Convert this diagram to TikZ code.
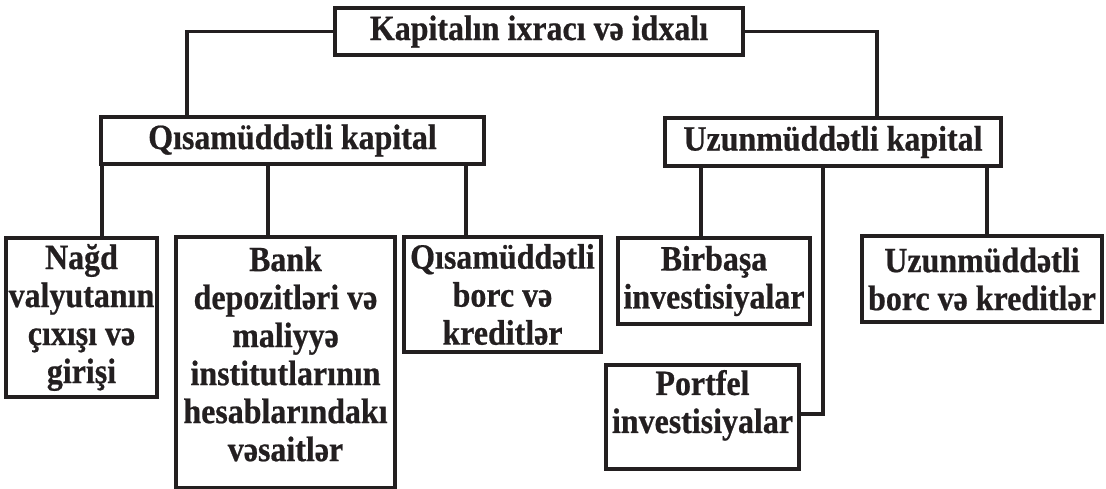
\documentclass[tikz,border=0pt]{standalone}
\usepackage{fontspec}
\setmainfont{Liberation Serif}[FakeStretch=0.9, BoldFeatures={FakeBold=0.6}]
\usetikzlibrary{calc}
\definecolor{ink}{HTML}{231F20}
\newcommand{\cellbox}[4]{\begin{minipage}[c][#2pt][#3]{#1pt}\centering\fontsize{35.5}{38}\selectfont\bfseries #4\end{minipage}}
\newcommand{\topcell}[4]{\begin{minipage}[c][#2pt][t]{#1pt}\centering\fontsize{35.5}{38}\selectfont\bfseries\vspace*{#3pt}#4\end{minipage}}
\tikzset{
  bx/.style={draw=ink, text=ink, line width=3.1pt, inner sep=0pt, rectangle},
  ln/.style={draw=ink, line width=3.1pt}
}
\begin{document}
\begin{tikzpicture}[x=1pt,y=-1pt]
\useasboundingbox (0,0) rectangle (1106,489);
% boxes
\node[bx] (top)  at (539,31.5)   {\cellbox{408}{47}{c}{Kapitalın ixracı və idxalı}};
\node[bx] (qisa) at (292.5,140.5){\cellbox{383}{47}{c}{Qısamüddətli kapital}};
\node[bx] (uzun) at (833,142)    {\cellbox{336}{48}{c}{Uzunmüddətli kapital}};
\node[bx] (nagd) at (81.5,317.5) {\cellbox{151}{159}{c}{Nağd\\valyutanın\\çıxışı və\\girişi}};
\node[bx] (bank) at (285.5,362.5){\topcell{219}{251}{9.5}{Bank\\depozitləri və\\maliyyə\\institutlarının\\hesablarındakı\\vəsaitlər}};
\node[bx] (qk)   at (502.5,294.5){\cellbox{197}{115}{c}{Qısamüddətli\\borc və\\kreditlər}};
\node[bx] (bir)  at (714,281)    {\cellbox{192}{86}{c}{Birbaşa\\investisiyalar}};
\node[bx] (port) at (702.5,417)  {\topcell{193}{104}{5}{Portfel\\investisiyalar}};
\node[bx] (uk)   at (982,279)    {\cellbox{240}{86}{c}{Uzunmüddətli\\borc və kreditlər}};
% connector points
\coordinate (tl) at (187,31.5);
\coordinate (tr) at (877,31.5);
\coordinate (q1) at (102,164);
\coordinate (q2) at (268,164);
\coordinate (q3) at (466,164);
\coordinate (u1) at (701,166);
\coordinate (u2) at (823,166);
\coordinate (u3) at (987,166);
\coordinate (pj) at (823,414);
% connectors
\draw[ln] (top.west) -- (tl) -- (tl |- qisa.north);
\draw[ln] (top.east) -- (tr) -- (tr |- uzun.north);
\draw[ln] (q1) -- (q1 |- nagd.north);
\draw[ln] (q2) -- (q2 |- bank.north);
\draw[ln] (q3) -- (q3 |- qk.north);
\draw[ln] (u1) -- (u1 |- bir.north);
\draw[ln] (u2) -- (pj) -- (pj -| port.east);
\draw[ln] (u3) -- (u3 |- uk.north);
\end{tikzpicture}
\end{document}
